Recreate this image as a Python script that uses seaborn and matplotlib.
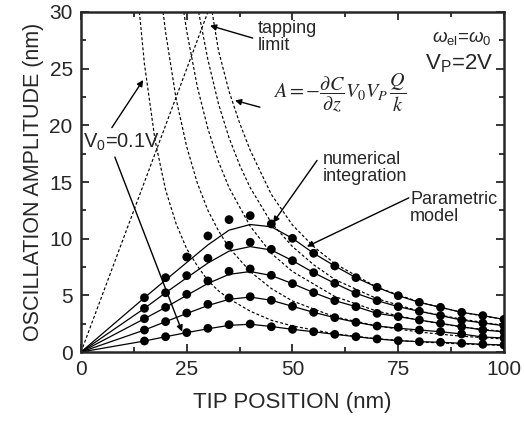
import numpy as np
import pandas as pd
import matplotlib
matplotlib.use("Agg")
import matplotlib.pyplot as plt
import seaborn as sns

# --- data ---
volts = ["0.5V", "0.4V", "0.3V", "0.2V", "0.1V"]

# numerical integration (dots)
x_pts = [15, 20, 25, 30, 35, 40, 45, 50, 55, 60, 65, 70, 75, 80, 85, 90, 95, 100]
amp_05 = [4.79, 6.56, 8.38, 10.24, 11.68, 12.03, 11.30, 10.03, 8.71, 7.59, 6.56, 5.71, 4.97, 4.38, 3.94, 3.50, 3.21, 2.88]
amp_04 = [3.85, 5.23, 6.74, 8.27, 9.41, 9.68, 9.06, 8.06, 7.00, 6.06, 5.18, 4.53, 4.00, 3.59, 3.21, 2.82, 2.56, 2.32]
amp_03 = [2.94, 3.94, 5.09, 6.27, 7.12, 7.33, 6.77, 6.03, 5.24, 4.53, 4.00, 3.41, 3.12, 2.82, 2.53, 2.23, 1.94, 1.79]
amp_02 = [1.94, 2.68, 3.44, 4.21, 4.77, 4.88, 4.56, 4.03, 3.50, 3.03, 2.62, 2.29, 2.18, 1.94, 1.79, 1.59, 1.32, 1.24]
amp_01 = [0.97, 1.35, 1.71, 2.09, 2.41, 2.47, 2.23, 2.00, 1.79, 1.56, 1.35, 1.15, 1.00, 0.91, 0.86, 0.77, 0.68, 0.62]

# parametric model (solid lines)
x_mod = [0, 15, 20, 25, 30, 35, 40, 45, 50, 55, 60, 65, 70, 75, 80, 85, 90, 95, 100]
mod_05 = [0, 4.79, 6.35, 7.90, 9.45, 10.75, 11.25, 11.05, 10.03, 8.71, 7.59, 6.56, 5.71, 4.97, 4.38, 3.94, 3.50, 3.21, 2.88]
mod_04 = [0, 3.85, 5.23, 6.55, 7.85, 8.90, 9.30, 9.00, 8.06, 7.00, 6.06, 5.18, 4.53, 4.00, 3.59, 3.21, 2.82, 2.56, 2.32]
mod_03 = [0, 2.94, 3.94, 5.00, 6.05, 6.85, 7.10, 6.75, 6.03, 5.24, 4.53, 4.00, 3.41, 3.12, 2.82, 2.53, 2.23, 1.94, 1.79]
mod_02 = [0, 1.94, 2.68, 3.40, 4.10, 4.65, 4.85, 4.56, 4.03, 3.50, 3.03, 2.62, 2.29, 2.10, 1.94, 1.79, 1.59, 1.32, 1.24]
mod_01 = [0, 0.97, 1.35, 1.71, 2.05, 2.35, 2.45, 2.25, 2.00, 1.79, 1.56, 1.35, 1.15, 1.00, 0.91, 0.86, 0.77, 0.68, 0.62]

# A = -dC/dz V0 VP Q/k (dashed curves)
x_d1 = [13.8, 15, 17.5, 20, 22.5, 25, 27.5, 30, 32.5, 35, 40, 45, 50, 60, 70, 80, 90, 100]
a_d1 = [30, 25.4, 18.7, 14.3, 11.3, 9.1, 7.6, 6.3, 5.4, 4.7, 3.6, 2.8, 2.3, 1.6, 1.17, 0.89, 0.71, 0.58]
x_d2 = [19.4, 20, 22.5, 25, 27.5, 30, 32.5, 35, 40, 45, 50, 60, 70, 80, 90, 100]
a_d2 = [30, 28.2, 22.3, 18.1, 14.9, 12.5, 10.7, 9.2, 7.1, 5.6, 4.5, 3.1, 2.3, 1.76, 1.39, 1.15]
x_d3 = [24.3, 25, 27.5, 30, 32.5, 35, 40, 45, 50, 60, 70, 80, 90, 100]
a_d3 = [30, 28.3, 23.4, 19.7, 16.8, 14.5, 11.1, 8.7, 7.1, 4.9, 3.6, 2.8, 2.2, 1.8]
x_d4 = [27.8, 30, 32.5, 35, 37.5, 40, 45, 50, 55, 60, 70, 80, 90, 100]
a_d4 = [30, 25.8, 21.9, 18.9, 16.5, 14.5, 11.4, 9.3, 7.7, 6.4, 4.7, 3.6, 2.9, 2.34]
x_d5 = [31.0, 32.5, 35, 37.5, 40, 45, 50, 55, 60, 70, 80, 90, 100]
a_d5 = [30, 26.6, 23.0, 20.2, 17.8, 13.9, 11.2, 9.3, 7.8, 5.7, 4.4, 3.5, 2.88]

# tapping limit A = z
x_tap = [0, 30]
a_tap = [0, 30]

pts = pd.DataFrame({
    "x": x_pts * 5,
    "amp": amp_05 + amp_04 + amp_03 + amp_02 + amp_01,
    "V0": np.repeat(volts, len(x_pts)),
})
mod = pd.DataFrame({
    "x": x_mod * 5,
    "amp": mod_05 + mod_04 + mod_03 + mod_02 + mod_01,
    "V0": np.repeat(volts, len(x_mod)),
})
dash = pd.concat([
    pd.DataFrame({"x": x_d1, "amp": a_d1, "V0": "0.1V"}),
    pd.DataFrame({"x": x_d2, "amp": a_d2, "V0": "0.2V"}),
    pd.DataFrame({"x": x_d3, "amp": a_d3, "V0": "0.3V"}),
    pd.DataFrame({"x": x_d4, "amp": a_d4, "V0": "0.4V"}),
    pd.DataFrame({"x": x_d5, "amp": a_d5, "V0": "0.5V"}),
    pd.DataFrame({"x": x_tap, "amp": a_tap, "V0": "tap"}),
])

sns.set_style("ticks")
plt.rcParams["font.family"] = ["Liberation Sans", "DejaVu Sans"]
plt.rcParams["mathtext.fontset"] = "custom"
plt.rcParams["mathtext.rm"] = "Liberation Sans"
plt.rcParams["mathtext.it"] = "Liberation Sans:italic"

fig = plt.figure(figsize=(5.24, 4.24), dpi=100)
ax = fig.add_axes([0.1546, 0.1698, 0.8072, 0.8019])

sns.lineplot(data=dash, x="x", y="amp", units="V0", estimator=None, sort=False,
             color="black", lw=0.85, linestyle=(0, (2.5, 1.8)), ax=ax, legend=False)
sns.lineplot(data=mod, x="x", y="amp", units="V0", estimator=None, sort=False,
             color="black", lw=0.9, ax=ax, legend=False)
sns.scatterplot(data=pts, x="x", y="amp", color="black", s=40, edgecolor="none",
                ax=ax, legend=False, zorder=5)

ax.set_xlim(0, 100)
ax.set_ylim(0, 30)
ax.set_xticks([0, 25, 50, 75, 100])
ax.set_yticks([0, 5, 10, 15, 20, 25, 30])
ax.set_xticks(np.arange(0, 101, 12.5), minor=True)
ax.set_yticks(np.arange(0, 31, 2.5), minor=True)
ax.tick_params(which="both", direction="in", top=True, right=True, width=1.3)
ax.tick_params(which="major", length=6, labelsize=15, pad=6)
ax.tick_params(which="minor", length=3.5)
for s in ax.spines.values():
    s.set_linewidth(1.8)

ax.set_xlabel("TIP POSITION (nm)", fontsize=16, labelpad=9)
ax.set_ylabel("OSCILLATION AMPLITUDE (nm)", fontsize=15.5, labelpad=4)

arrow = dict(arrowstyle="-|>", color="black", lw=1.0, mutation_scale=9, shrinkA=0, shrinkB=0)

ax.text(41.8, 29.3, "tapping\nlimit", fontsize=13, va="top", ha="left", linespacing=1.0)
ax.annotate("", xy=(30.5, 28.8), xytext=(40.6, 27.7), arrowprops=arrow)

ax.text(45.3, 22.9, r"$A=-\dfrac{\partial C}{\partial z}V_0V_P\,\dfrac{Q}{k}$",
        fontsize=14.5, va="center", ha="left", math_fontfamily="stix")
ax.annotate("", xy=(36.4, 22.2), xytext=(42.3, 21.6), arrowprops=arrow)

ax.text(57.2, 17.7, "numerical\nintegration", fontsize=13, va="top", ha="left", linespacing=1.0)
ax.annotate("", xy=(45.4, 11.4), xytext=(55.8, 16.9), arrowprops=arrow)

ax.text(77.8, 14.2, "Parametric\nmodel", fontsize=13, va="top", ha="left", linespacing=1.0)
ax.annotate("", xy=(53.4, 9.3), xytext=(77.5, 13.6), arrowprops=arrow)

ax.text(97.0, 27.7, r"$\omega_{\rm el}$=$\omega_{\rm 0}$", fontsize=13.5, va="center", ha="right")
ax.text(97.4, 25.4, r"V$_{\rm P}$=2V", fontsize=16, va="center", ha="right")

ax.text(0.4, 18.5, r"V$_{\rm 0}$=0.1V", fontsize=14.5, va="center", ha="left")
ax.annotate("", xy=(14.7, 24.0), xytext=(7.3, 19.8), arrowprops=arrow)
ax.annotate("", xy=(23.9, 1.8), xytext=(8.0, 17.2), arrowprops=arrow)

fig.savefig("out.png", dpi=100)
